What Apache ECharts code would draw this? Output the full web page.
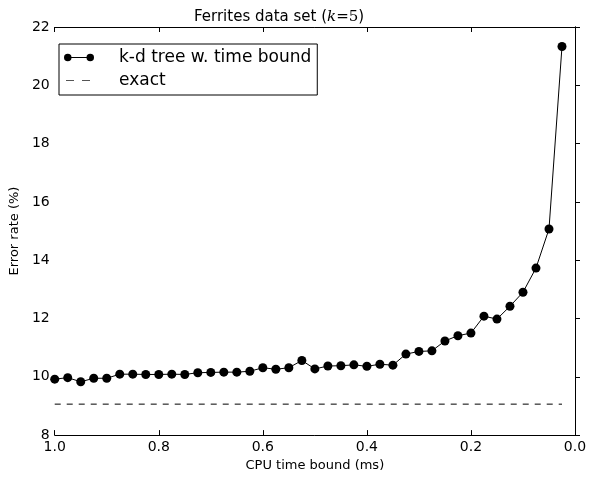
<!DOCTYPE html>
<html>
<head>
<meta charset="utf-8">
<script src="https://cdn.jsdelivr.net/npm/echarts@6/dist/echarts.min.js"></script>
<style>
html,body{margin:0;padding:0;background:#fff;}
#chart{width:590px;height:477px;}
</style>
</head>
<body>
<div id="chart"></div>
<script>
// CPU time bound (ms)
var timeBound = [1.000, 0.975, 0.950, 0.925, 0.900, 0.875, 0.850, 0.825, 0.800, 0.775,
                 0.750, 0.725, 0.700, 0.675, 0.650, 0.625, 0.600, 0.575, 0.550, 0.525,
                 0.500, 0.475, 0.450, 0.425, 0.400, 0.375, 0.350, 0.325, 0.300, 0.275,
                 0.250, 0.225, 0.200, 0.175, 0.150, 0.125, 0.100, 0.075, 0.050, 0.025];
// error rate (%) of k-d tree w. time bound
var errorRate = [9.92, 9.97, 9.83, 9.95, 9.95, 10.09, 10.09, 10.08, 10.08, 10.09,
                 10.08, 10.14, 10.15, 10.16, 10.16, 10.19, 10.31, 10.26, 10.31, 10.56,
                 10.27, 10.37, 10.38, 10.41, 10.36, 10.43, 10.40, 10.78, 10.87, 10.89,
                 11.23, 11.41, 11.50, 12.08, 11.98, 12.42, 12.90, 13.73, 15.07, 21.33];
// exact search error rate
var exactX = [1.0, 0.025];
var exactRate = 9.06;

var kdData = [];
for (var i = 0; i < timeBound.length; i++) {
    kdData.push([timeBound[i], errorRate[i]]);
}
var exactData = [];
for (var j = 0; j < exactX.length; j++) {
    exactData.push([exactX[j], exactRate]);
}

var font = 'DejaVu Sans';
var axisLine = {show: true, lineStyle: {color: '#000', width: 1}};
var tickIn = {show: true, inside: true, length: 5, lineStyle: {color: '#000', width: 1}};
var tickOut = {show: true, inside: false, length: 5, lineStyle: {color: '#000', width: 1}};

var option = {
    backgroundColor: '#fff',
    animation: false,
    title: {
        text: 'Ferrites data set ({i|k}{n|=5})',
        left: 189,
        top: 5,
        textStyle: {
            fontFamily: font, fontSize: 15, fontWeight: 'normal', color: '#000',
            rich: {
                i: {fontFamily: 'DejaVu Serif', fontStyle: 'italic', fontSize: 15, color: '#000'},
                n: {fontFamily: 'DejaVu Serif', fontSize: 15, color: '#000'}
            }
        }
    },
    legend: {
        left: 59,
        top: 44,
        orient: 'vertical',
        borderColor: '#000',
        borderWidth: 1,
        borderRadius: 0,
        padding: [5, 6, 6, 5],
        itemGap: 6,
        itemWidth: 30,
        itemHeight: 9,
        textStyle: {fontFamily: font, fontSize: 17, color: '#000', padding: [0, 0, 0, 20]},
        data: [
            {name: 'k-d tree w. time bound',
             icon: 'path://M1,4.5A3.5,3.5,0,1,1,8,4.5A3.5,3.5,0,1,1,1,4.5ZM22,4.5A3.5,3.5,0,1,1,29,4.5A3.5,3.5,0,1,1,22,4.5ZM4,4L26,4L26,5L4,5Z'},
            {name: 'exact',
             icon: 'path://M2,4L10,4L10,5L2,5ZM18,4L26,4L26,5L18,5ZM0,0L0.01,0L0.01,0.01ZM30,9L29.99,9L29.99,8.99Z'}
        ]
    },
    grid: {left: 51, right: 15, top: 27, bottom: 37},
    xAxis: [{
        type: 'value',
        inverse: true,
        min: 0, max: 1, interval: 0.2,
        name: 'CPU time bound (ms)',
        nameLocation: 'middle',
        nameGap: 20,
        nameTextStyle: {fontFamily: font, fontSize: 13, color: '#000'},
        axisLine: axisLine,
        axisTick: tickIn,
        splitLine: {show: false},
        axisLabel: {
            fontFamily: font, fontSize: 14, color: '#000', margin: 5,
            formatter: function (v) { return v.toFixed(1); }
        }
    }, {
        type: 'value',
        position: 'top',
        inverse: true,
        min: 0, max: 1, interval: 0.2,
        axisLine: axisLine,
        axisTick: tickIn,
        splitLine: {show: false},
        axisLabel: {show: false}
    }],
    yAxis: [{
        type: 'value',
        min: 8, max: 22, interval: 2,
        name: 'Error rate (%)',
        nameLocation: 'middle',
        nameGap: 26,
        nameTextStyle: {fontFamily: font, fontSize: 13, color: '#000'},
        axisLine: axisLine,
        axisTick: tickIn,
        splitLine: {show: false},
        axisLabel: {fontFamily: font, fontSize: 14, color: '#000', margin: 5}
    }, {
        type: 'value',
        position: 'right',
        min: 8, max: 22, interval: 2,
        axisLine: axisLine,
        axisTick: tickOut,
        splitLine: {show: false},
        axisLabel: {show: false}
    }],
    series: [{
        name: 'k-d tree w. time bound',
        type: 'line',
        data: kdData,
        symbol: 'circle',
        symbolSize: 9,
        itemStyle: {color: '#000'},
        lineStyle: {color: '#000', width: 1}
    }, {
        name: 'exact',
        type: 'line',
        data: exactData,
        symbol: 'none',
        itemStyle: {color: '#555'},
        lineStyle: {color: '#555', width: 1.5, type: [6, 6]}
    }]
};

var chart = echarts.init(document.getElementById('chart'));
chart.setOption(option);
window.addEventListener('resize', function () {
    chart.resize();
});
</script>
</body>
</html>
